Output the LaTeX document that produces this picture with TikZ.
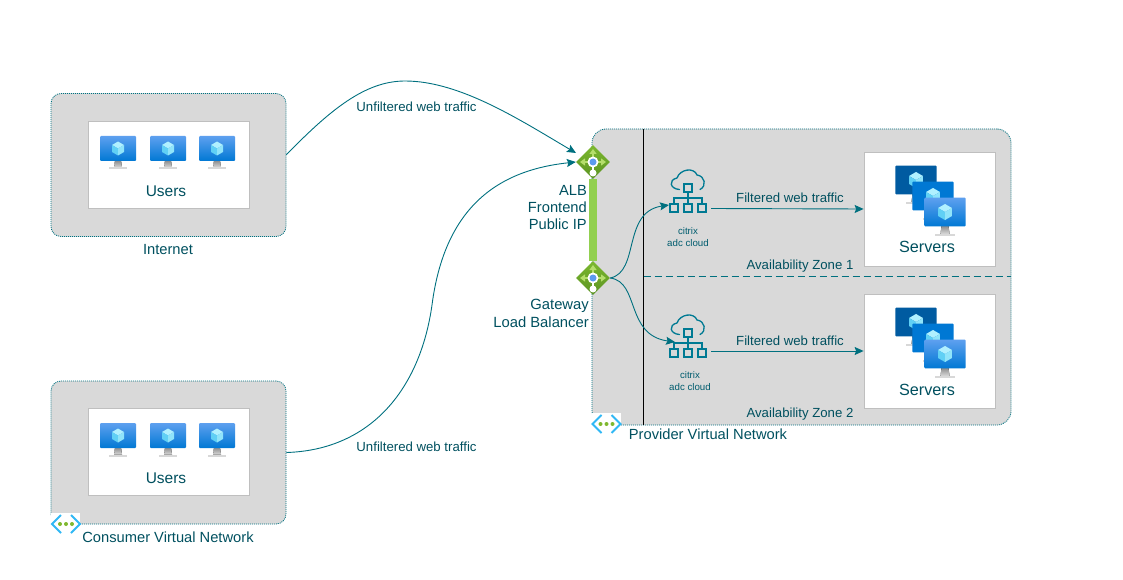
\documentclass[tikz,border=0pt]{standalone}
\usepackage{fontspec}
\setmainfont{Liberation Sans}
\usetikzlibrary{shapes.geometric, arrows.meta}
\definecolor{tealtext}{HTML}{00505F}
\definecolor{tealline}{HTML}{00707F}
\definecolor{citrixblue}{HTML}{007A93}
\definecolor{zonegray}{HTML}{D9D9D9}
\definecolor{cardedge}{HTML}{BFBFBF}
\definecolor{lbtop}{HTML}{7CB82F}
\definecolor{lbbot}{HTML}{5B9322}
\definecolor{lbarrow}{HTML}{B5DE6B}
\definecolor{lbbar}{HTML}{92D050}
\definecolor{lbdot}{HTML}{5C9BEF}
\definecolor{screentop}{HTML}{5EA0EF}
\definecolor{screenbot}{HTML}{0078D4}
\definecolor{screendark}{HTML}{005BA1}
\definecolor{standtop}{HTML}{8C8C8C}
\definecolor{standbot}{HTML}{D8D8D8}
\definecolor{cubetop}{HTML}{B0F0FF}
\definecolor{cubeleft}{HTML}{60D0F5}
\definecolor{cuberight}{HTML}{90E4FA}
\definecolor{vnetblue}{HTML}{30B8F5}
\definecolor{vnetdot}{HTML}{7FB82F}
\begin{document}
\begin{tikzpicture}[x=1pt, y=-1pt,
		zone/.style={draw=tealline, line width=.8pt, dash pattern=on 1pt off 1pt, fill=zonegray, rounded corners=10pt, minimum width=235pt, minimum height=143pt},
		card/.style={draw=cardedge, fill=white, line width=.8pt},
		lbl/.style={text=tealtext, font=\fontsize{14.7}{17}\selectfont, inner sep=0pt},
		small/.style={text=tealtext, font=\fontsize{13.2}{15}\selectfont, inner sep=0pt},
		tiny/.style={text=citrixblue!75!black, font=\fontsize{9.7}{12}\selectfont, inner sep=0pt, align=center},
		flow/.style={draw=tealline, line width=.9pt, -{Stealth[length=9pt, width=8pt, inset=1.5pt]}},
		balancer/.style={diamond, minimum width=34pt, minimum height=34pt, inner sep=0pt, top color=lbtop, bottom color=lbbot},
		bright/.style={top color=screentop, bottom color=screenbot},
		mid/.style={fill=screenbot},
		dark/.style={fill=screendark},
		pics/vm/.style={code={
			\fill[top color=standtop, bottom color=standbot] (-3,12) -- (3,12) -- (4,19) -- (-4,19) -- cycle;
			\fill[standbot] (-9,19) -- (9,19) -- (9,21) -- (-9,21) -- cycle;
			\path[rounded corners=1pt, #1] (-18,-12.5) rectangle (18,12.5);
			\fill[cubetop] (0,-7) -- (6,-3.5) -- (0,0) -- (-6,-3.5) -- cycle;
			\fill[cubeleft] (-6,-3.5) -- (0,0) -- (0,7) -- (-6,3.5) -- cycle;
			\fill[cuberight] (6,-3.5) -- (0,0) -- (0,7) -- (6,3.5) -- cycle;
		}},
		pics/citrix/.style={code={
			\draw[citrixblue, line width=1.3pt, line cap=round] (-8.5,-8.5) .. controls (-18,-9) and (-20,-18) .. (-11,-20) .. controls (-8,-29) and (6,-31) .. (9,-23) .. controls (17,-22) and (19,-12) .. (12,-8.5);
			\draw[citrixblue, line width=1.3pt] (-4,-14) rectangle (4,-6) (-18,6) rectangle (-10,14) (-4,6) rectangle (4,14) (10,6) rectangle (18,14);
			\draw[citrixblue, line width=1.3pt] (0,-6) -- (0,6) (-14,6) -- (-14,0) -- (14,0) -- (14,6);
		}},
		pics/vnet/.style={code={
			\fill[white] (-15,-11) rectangle (14,10);
			\draw[vnetblue, line width=2pt] (-5,-9) -- (-14,0) -- (-5,9) (5,-9) -- (14,0) -- (5,9);
			\fill[vnetdot] (-6,0) circle (2pt) (0,0) circle (2pt) (6,0) circle (2pt);
		}},
		pics/lbmark/.style={code={
			\draw[lbarrow, line width=2pt, -{Triangle[length=5pt, width=7pt]}] (0,0) -- (0,-13);
			\draw[lbarrow, line width=2pt, -{Triangle[length=5pt, width=7pt]}] (0,0) -- (-13,0);
			\draw[lbarrow, line width=2pt, -{Triangle[length=5pt, width=7pt]}] (0,0) -- (13,0);
			\draw[white, line width=2pt] (0,0) -- (0,10);
			\fill[white] (0,11) circle (3.5pt) (0,0) circle (5.5pt);
			\fill[lbdot] (0,0) circle (3.5pt);
		}}
		]
		\useasboundingbox (0,0) rectangle (1123,580);
		
		% ---- ZONAS ----
		\node[zone] (internetbox) at (168.5,165) {};
		\node[zone] (consumerbox) at (168.5,452.5) {};
		\node[zone, rounded corners=14pt, minimum width=419pt, minimum height=296pt] (providerbox) at (801.5,277) {};
		\node[card, minimum width=161pt, minimum height=87pt] (userscard1) at (168.5,164.5) {};
		\node[card, minimum width=161pt, minimum height=87pt] (userscard2) at (168.5,451.5) {};
		\node[card, minimum width=131pt, minimum height=114pt] (serverscard1) at (929.5,209) {};
		\node[card, minimum width=131pt, minimum height=114pt] (serverscard2) at (929.5,351) {};
		\draw[black, line width=.9pt] (643.5,129) -- (643.5,425);
		\draw[tealline, dash pattern=on 7pt off 4pt, line width=.9pt] (643.5,276) -- (1011,276);
		
		% ---- ICONOS ----
		\foreach \xpos in {118,168,217} {
			\pic at (\xpos,148.5) {vm=bright};
			\pic at (\xpos,435.5) {vm=bright};
		}
		\foreach \ypos in {0,142} {
			\pic[scale=1.15] at (916,180+\ypos) {vm=dark};
			\pic[scale=1.15] at (933,196+\ypos) {vm=mid};
			\pic[scale=1.15] at (945,212+\ypos) {vm=bright};
		}
		\pic at (688,198) {citrix};
		\pic at (688,343) {citrix};
		\pic at (606.5,424) {vnet};
		\pic at (66,524) {vnet};
		
		% ---- BALANCEADORES ----
		\fill[lbbar] (589,179) rectangle (597,261);
		\node[balancer] (albnode) at (593,162) {};
		\node[balancer] (gwlbnode) at (593,278) {};
		\pic at (albnode) {lbmark};
		\pic at (gwlbnode) {lbmark};
		\coordinate (albupper) at (576,153);
		\coordinate (citrixin1) at (669,205);
		\coordinate (citrixin2) at (675,342);
		\coordinate (citrixout1) at (711,208.5);
		\coordinate (citrixout2) at (711,351);
		
		% ---- ARISTAS ----
		\draw[flow] (internetbox.5.8) .. controls (330,110) and (365,81) .. (405,81) .. controls (460,81) and (520,120) .. (albupper);
		\draw[flow] (consumerbox.east) .. controls (370,450) and (420,390) .. (432,305) .. controls (445,205) and (500,170) .. (albnode.west);
		\draw[flow] (gwlbnode.east) .. controls (640,272) and (622,212) .. (citrixin1);
		\draw[flow] (gwlbnode.east) .. controls (640,282) and (625,335) .. (citrixin2);
		\draw[flow] (citrixout1) -- (serverscard1.west);
		\draw[flow] (citrixout2) -- (serverscard2.west);
		
		% ---- ETIQUETAS ----
		\node[small] (unfiltered1) at (416.5,107) {Unfiltered web traffic};
		\node[small] (unfiltered2) at (416.5,447) {Unfiltered web traffic};
		\node[small] (filtered1) at (790,197.5) {Filtered web traffic};
		\node[small] (filtered2) at (790,340.5) {Filtered web traffic};
		\node[small] (azone1) at (800,266) {Availability Zone 1};
		\node[small] (azone2) at (800,414) {Availability Zone 2};
		\node[lbl, font=\fontsize{15.5}{18}\selectfont] (users1) at (166,191.5) {Users};
		\node[lbl, font=\fontsize{15.5}{18}\selectfont] (users2) at (166,478.5) {Users};
		\node[lbl, font=\fontsize{16.2}{18}\selectfont] (servers1) at (927,246.5) {Servers};
		\node[lbl, font=\fontsize{16.2}{18}\selectfont] (servers2) at (927,389.5) {Servers};
		\node[lbl] (internetlabel) at (168,250) {Internet};
		\node[lbl] (consumerlabel) at (168,537) {Consumer Virtual Network};
		\node[lbl] (providerlabel) at (708,434.5) {Provider Virtual Network};
		\node[lbl, align=right, anchor=east] (alblabel) at (587,208) {ALB\\Frontend\\Public IP};
		\node[lbl, align=right, anchor=east, font=\fontsize{14.8}{18}\selectfont] (gwlblabel) at (589,313) {Gateway\\Load Balancer};
		\node[tiny] (citrixlabel1) at (688,237.5) {citrix\\adc cloud};
		\node[tiny] (citrixlabel2) at (690,381.5) {citrix\\adc cloud};
		
	\end{tikzpicture}
\end{document}
